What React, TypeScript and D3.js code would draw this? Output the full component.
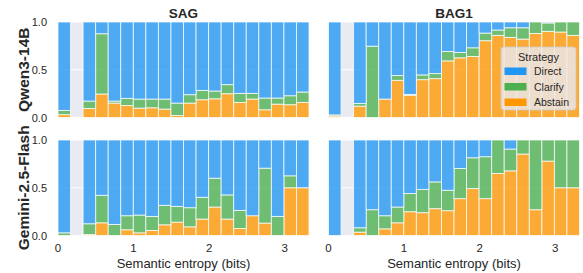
import React from "react";
import * as d3 from "d3";

// share of answers per semantic-entropy bin (null = empty bin)
const abstainQwenSAG = [0.03, null, 0.095, 0.246, 0.151, 0.126, 0.098, 0.102, 0.088, 0.021, 0.151, 0.186, 0.196, 0.249, 0.158, 0.193, 0.081, 0.14, 0.134, 0.158];
const clarifyQwenSAG = [0.044, null, 0.077, 0.631, 0.021, 0.074, 0.095, 0.091, 0.105, 0.13, 0.088, 0.098, 0.081, 0.095, 0.095, 0.06, 0.123, 0.064, 0.094, 0.109];

const abstainQwenBAG1 = [0.015, null, 0.119, 0, 0.193, 0.389, 0.232, 0.396, 0.407, 0.593, 0.625, 0.639, 0.804, 0.86, 0.839, 0.821, 0.88, 0.902, 0.895, 0.86];
const clarifyQwenBAG1 = [0.012, null, 0.028, 0.747, 0, 0.05, 0.01, 0.05, 0.053, 0.098, 0.056, 0.091, 0.08, 0.056, 0.101, 0.119, 0.12, 0.088, 0.105, 0.14];

const abstainGeminiSAG = [0, null, 0.01, 0.133, 0, 0.06, 0.028, 0.053, 0.112, 0.14, 0.091, 0.172, 0.298, 0.172, 0.074, 0.207, 0.13, 0, 0.5, 0.5];
const clarifyGeminiSAG = [0.028, null, 0.113, 0.288, 0.116, 0.147, 0.186, 0.147, 0.204, 0.165, 0.2, 0.228, 0.302, 0.253, 0.189, 0, 0.575, 0.2, 0.125, 0];

const abstainGeminiBAG1 = [0, null, 0.035, 0, 0.07, 0.133, 0.249, 0.239, 0.281, 0.26, 0.386, 0.491, 0.386, 0.649, 0.677, 0.853, 0.27, 0.779, 0.5, 0.5];
const clarifyGeminiBAG1 = [0, null, 0.046, 0.27, 0.137, 0.165, 0.19, 0.242, 0.28, 0.214, 0.316, 0.323, 0.439, 0.351, 0.228, 0.147, 0.73, 0.221, 0.5, 0.5];

const datasets = ["SAG", "BAG1"];
const models = ["Qwen3-14B", "Gemini-2.5-Flash"];
const strategies = ["Direct", "Clarify", "Abstain"];
const colors: Record<string, string> = { Direct: "#2196f3", Clarify: "#4caf50", Abstain: "#ff9800" };
const xTicks = [0, 1, 2, 3];
const yTicks = [0, 0.5, 1];

const maxEntropy = Math.log2(10);
const nBins = 20;

const panelData = [
  [[abstainQwenSAG, clarifyQwenSAG], [abstainQwenBAG1, clarifyQwenBAG1]],
  [[abstainGeminiSAG, clarifyGeminiSAG], [abstainGeminiBAG1, clarifyGeminiBAG1]],
];

const W = 583;
const H = 273;
const colLeft = [58, 328.5];
const panelW = 251;
const rowTop = [22, 140];
const panelH = 95.5;
const font = "'Liberation Sans', Arial, sans-serif";
const ink = "#262626";

const Panel = ({ row, col }: { row: number; col: number }) => {
  const [abstain, clarify] = panelData[row][col];
  const x = d3.scaleLinear().domain([0, maxEntropy]).range([colLeft[col], colLeft[col] + panelW]);
  const y = d3.scaleLinear().domain([0, 1]).range([rowTop[row] + panelH, rowTop[row]]);
  const edges = d3.range(nBins + 1).map((i) => (i * maxEntropy) / nBins);

  const rows = abstain
    .map((a, i) => ({ i, a, c: clarify[i] }))
    .filter((d) => d.a !== null)
    .map((d) => ({ i: d.i, Abstain: d.a as number, Clarify: d.c as number, Direct: 1 - (d.a as number) - (d.c as number) }));
  const series = d3.stack<any>().keys(["Abstain", "Clarify", "Direct"])(rows);

  return (
    <g>
      <rect x={x(0)} y={y(1)} width={x(maxEntropy) - x(0)} height={y(0) - y(1)} fill="#eaeaf2" />
      {yTicks.map((t) => (
        <line key={"gy" + t} x1={x(0)} x2={x(maxEntropy)} y1={y(t)} y2={y(t)} stroke="#fff" strokeWidth={1} />
      ))}
      {xTicks.map((t) => (
        <line key={"gx" + t} x1={x(t)} x2={x(t)} y1={y(0)} y2={y(1)} stroke="#fff" strokeWidth={1} />
      ))}
      {series.map((s) =>
        s.map((d: any) => {
          const i = d.data.i;
          const h = y(d[0]) - y(d[1]);
          if (h <= 0) return null;
          return (
            <rect
              key={s.key + i}
              x={x(edges[i])}
              y={y(d[1])}
              width={x(edges[i + 1]) - x(edges[i])}
              height={h}
              fill={colors[s.key]}
              fillOpacity={0.78}
              stroke="#fff"
              strokeOpacity={0.8}
              strokeWidth={0.9}
            />
          );
        })
      )}
      {col === 0 &&
        yTicks.map((t) => (
          <text key={"yt" + t} x={x(0) - 11} y={y(t) + 4} textAnchor="end" fontSize={11} fill={ink}>
            {t.toFixed(1)}
          </text>
        ))}
      {row === 1 &&
        xTicks.map((t) => (
          <text key={"xt" + t} x={x(t)} y={252} textAnchor="middle" fontSize={11.5} fill={ink}>
            {t}
          </text>
        ))}
      {row === 1 && (
        <text x={(x(0) + x(maxEntropy)) / 2} y={268} textAnchor="middle" fontSize={13} fill={ink}>
          Semantic entropy (bits)
        </text>
      )}
      {row === 0 && (
        <text x={(x(0) + x(maxEntropy)) / 2} y={17.5} textAnchor="middle" fontSize={13.5} fontWeight="bold" fill={ink}>
          {datasets[col]}
        </text>
      )}
      {col === 0 && (
        <text
          transform={`translate(29,${(y(0) + y(1)) / 2}) rotate(-90)`}
          textAnchor="middle"
          fontSize={15.5}
          fontWeight="bold"
          fill={ink}
        >
          {models[row]}
        </text>
      )}
    </g>
  );
};

const Legend = () => {
  const lx = 501;
  const ly = 47;
  return (
    <g>
      <rect x={lx} y={ly} width={75} height={63} rx={3} fill="#eaeaf2" fillOpacity={0.8} stroke="#cccccc" strokeWidth={0.8} />
      <text x={lx + 37.5} y={ly + 14} textAnchor="middle" fontSize={11} fill={ink}>
        Strategy
      </text>
      {strategies.map((s, i) => (
        <g key={s}>
          <rect x={lx + 3.5} y={ly + 20.5 + i * 15.5} width={22} height={7.5} fill={colors[s]} />
          <text x={lx + 33} y={ly + 28 + i * 15.5} fontSize={10.5} fill={ink}>
            {s}
          </text>
        </g>
      ))}
    </g>
  );
};

export default function App() {
  return (
    <svg width={W} height={H} style={{ position: "absolute", left: 0, top: 0, background: "#fff" }} fontFamily={font}>
      {[0, 1].map((r) => [0, 1].map((c) => <Panel key={`${r}-${c}`} row={r} col={c} />))}
      <Legend />
    </svg>
  );
}
